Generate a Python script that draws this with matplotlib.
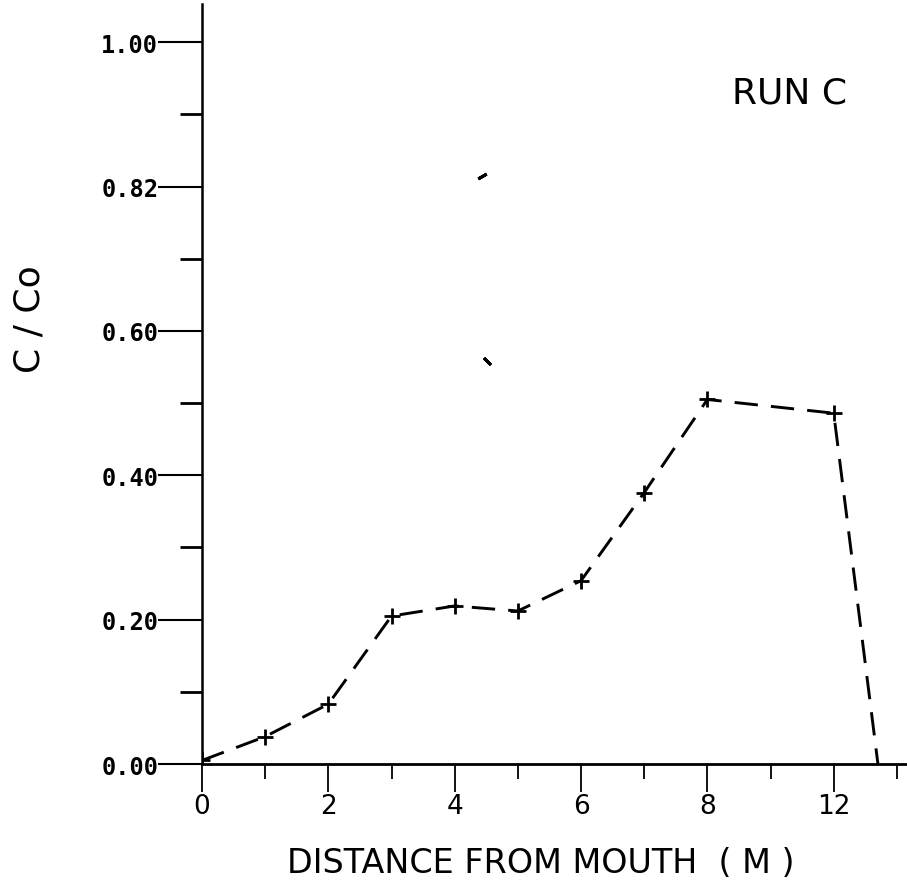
import numpy as np
import matplotlib
matplotlib.use("Agg")
import matplotlib.pyplot as plt

# data (x in tick positions along the axis)
dist = [0, 1, 2, 3, 4, 5, 6, 7, 8, 10, 10.7]
conc = [0.005, 0.038, 0.083, 0.205, 0.219, 0.212, 0.254, 0.376, 0.505, 0.486, 0.0]
n_marked = 10

xtick_pos = [0, 2, 4, 6, 8, 10]
xtick_labels = ["0", "2", "4", "6", "8", "12"]
ytick_pos = [0.0, 0.2, 0.4, 0.6, 0.8, 1.0]
ytick_labels = ["0.00", "0.20", "0.40", "0.60", "0.82", "1.00"]

# two stray pen marks on the scan
stray_x = [4.43, 4.51]
stray_y = [0.814, 0.558]
stray_ang = [-60, 45]

mono = ["DejaVu Sans Mono"]
sans = ["DejaVu Sans"]

fig = plt.figure(figsize=(9.07, 8.87), dpi=100)
ax = fig.add_axes([0.2227, 0.1375, 0.7773, 0.857])

ax.plot(dist, conc, color="black", lw=2.1, dashes=(8, 4.5))
ax.plot(dist[:n_marked], conc[:n_marked], ls="none", marker="+",
        ms=11, mew=2, color="black")
for sx, sy, a in zip(stray_x, stray_y, stray_ang):
    ax.plot([sx], [sy], ls="none", marker=(2, 2, a), ms=7, mew=2.2,
            color="black")

ax.set_xlim(0, 11.16)
ax.set_ylim(0, 1.053)

for s in ["top", "right"]:
    ax.spines[s].set_visible(False)
ax.spines["left"].set_linewidth(1.8)
ax.spines["bottom"].set_linewidth(2.0)

ax.set_xticks(xtick_pos)
ax.set_xticklabels(xtick_labels, fontfamily=sans, fontsize=19)
ax.set_xticks([1, 3, 5, 7, 9, 11], minor=True)
ax.set_yticks(ytick_pos)
ax.set_yticklabels(ytick_labels, fontfamily=mono, fontsize=17,
                   fontweight="bold")
ax.set_yticks([0.1, 0.3, 0.5, 0.7, 0.9], minor=True)

ax.tick_params(axis="y", which="major", length=31.5, width=1.5, pad=0)
ax.tick_params(axis="y", which="minor", length=16, width=2)
ax.tick_params(axis="x", which="major", length=20, width=1.3, pad=1)
ax.tick_params(axis="x", which="minor", length=11, width=1.3)

fig.text(0.596, 0.027, "DISTANCE FROM MOUTH  ( M )", ha="center",
         va="center", fontsize=24, family=sans)
fig.text(0.033, 0.64, "C / Co", ha="center", va="center", rotation=90,
         fontsize=26, family=sans)
ax.text(790 / 907, 1 - 93 / 887, "RUN C", transform=fig.transFigure,
        ha="center", va="center", fontsize=26, family=sans)

fig.savefig("out.png", dpi=100)
